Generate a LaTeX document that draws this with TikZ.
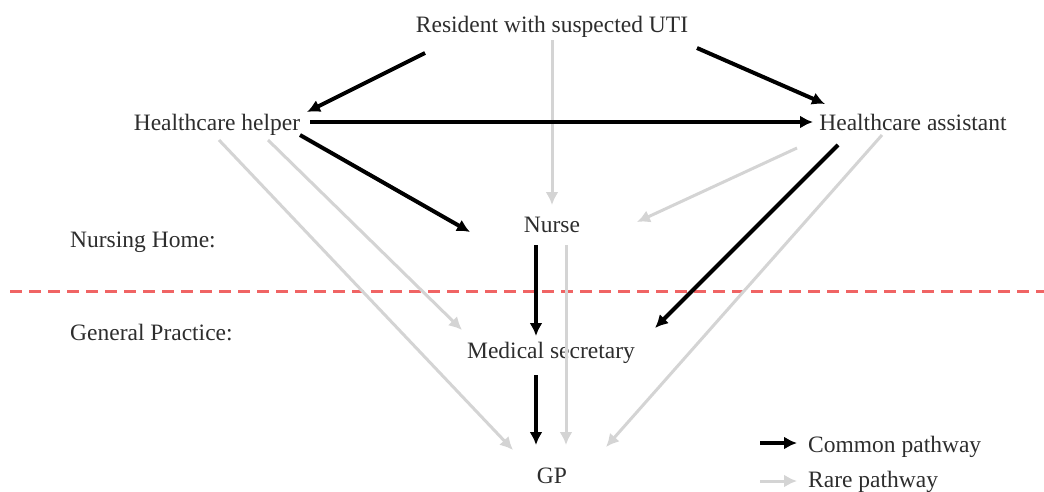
\documentclass[tikz,border=0pt]{standalone}
\usepackage{fontspec}
\setmainfont{Liberation Serif}
\usetikzlibrary{arrows.meta,calc}
\definecolor{txt}{RGB}{45,45,45}
\definecolor{rare}{RGB}{212,212,212}
\definecolor{divred}{RGB}{240,100,100}
\begin{document}
\begin{tikzpicture}[x=1pt,y=-1pt,
  lbl/.style={inner sep=0pt,anchor=base,text=txt,font=\fontsize{23.5}{28}\selectfont},
  lbll/.style={lbl,anchor=base west},
  common/.style={draw=black,line width=4pt,-{Latex[length=13pt,width=13pt]}},
  rarep/.style={draw=rare,line width=3pt,-{Latex[length=13pt,width=13pt]}}]
\useasboundingbox (0,0) rectangle (1044,491);
% nodes
\node[lbl] (res) at (552,32) {Resident with suspected UTI};
\node[lbl] (helper) at (217,130) {Healthcare helper};
\node[lbl] (asst) at (913,130) {Healthcare assistant};
\node[lbl] (nurse) at (552,232) {Nurse};
\node[lbl] (medsec) at (551,358) {Medical secretary};
\node[lbl] (gp) at (552,483) {GP};
\node[lbll] (nh) at (70,247) {Nursing Home:};
\node[lbll] (gpr) at (70,340) {General Practice:};
\node[lbll] (legc) at (808,452) {Common pathway};
\node[lbll] (legr) at (808,487) {Rare pathway};
% divider
\coordinate (dl) at (10,291);
\coordinate (dr) at (1044,291);
\draw[divred,line width=3pt,dash pattern=on 12pt off 7pt] (dl) -- (dr);
% rare pathways
\draw[rarep] ($(res.base)+(0,8)$) -- ($(nurse.base)+(0,-27)$);
\draw[rarep] ($(asst.base)+(-116,18)$) -- ($(nurse.base)+(85,-10)$);
\draw[rarep] ($(helper.base)+(2,10)$) -- ($(gp.base)+(-39,-33)$);
\draw[rarep] ($(helper.base)+(51,10)$) -- ($(medsec.base)+(-89,-28)$);
\draw[rarep] ($(nurse.base)+(14,13)$) -- ($(gp.base)+(14,-38)$);
\draw[rarep] ($(asst.base)+(-31,5)$) -- ($(gp.base)+(54,-36)$);
% common pathways
\draw[common] ($(res.base)+(-127,21)$) -- ($(helper.base)+(90,-18)$);
\draw[common] ($(res.base)+(145,16)$) -- ($(asst.base)+(-88,-26)$);
\draw[common] ($(helper.base)+(93,-8)$) -- ($(asst.base)+(-100,-8)$);
\draw[common] ($(helper.base)+(83,5)$) -- ($(nurse.base)+(-82,0)$);
\draw[common] ($(nurse.base)+(-16,13)$) -- ($(medsec.base)+(-15,-22)$);
\draw[common] ($(asst.base)+(-75,15)$) -- ($(medsec.base)+(104,-30)$);
\draw[common] ($(medsec.base)+(-15,17)$) -- ($(gp.base)+(-16,-38)$);
% legend
\coordinate (lc) at (760,443);
\coordinate (lr) at (760,481);
\draw[common] (lc) -- ($(legc.base west)+(-11,-9)$);
\draw[rarep] (lr) -- ($(legr.base west)+(-11,-6)$);
\end{tikzpicture}
\end{document}
